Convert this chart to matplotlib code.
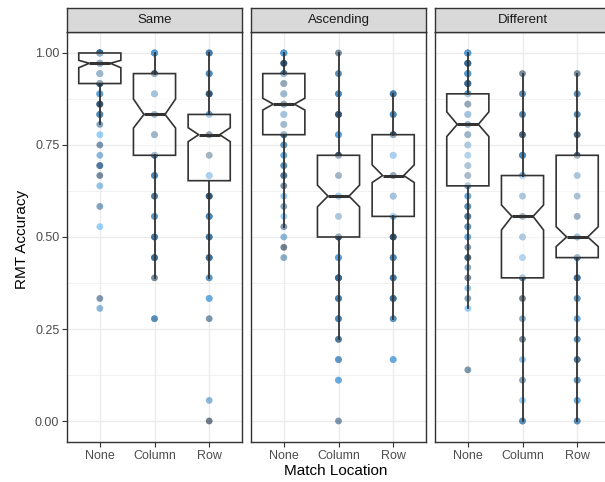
import numpy as np
import matplotlib
matplotlib.use('Agg')
import matplotlib.pyplot as plt
from matplotlib.colors import LinearSegmentedColormap

plt.rcParams['font.family'] = ['Liberation Sans', 'DejaVu Sans']

# Facetas y categorias
panels = ['Same', 'Ascending', 'Different']
locations = ['None', 'Column', 'Row']

# Puntos: niveles de accuracy y cuantos puntos hay en cada nivel
same_none_lv = [1.0, 0.972, 0.944, 0.917, 0.889, 0.861, 0.833, 0.806, 0.778, 0.75, 0.722, 0.694, 0.667, 0.639, 0.583, 0.528, 0.333, 0.306]
same_none_n = [8, 8, 5, 4, 3, 3, 3, 1, 1, 1, 1, 2, 1, 1, 1, 1, 1, 1]
same_col_lv = [1.0, 0.944, 0.889, 0.833, 0.778, 0.722, 0.667, 0.611, 0.556, 0.5, 0.444, 0.389, 0.278]
same_col_n = [4, 3, 3, 3, 3, 3, 3, 2, 2, 3, 3, 1, 2]
same_row_lv = [1.0, 0.944, 0.889, 0.833, 0.778, 0.722, 0.667, 0.611, 0.556, 0.5, 0.444, 0.389, 0.333, 0.278, 0.056, 0.0]
same_row_n = [3, 3, 3, 3, 3, 2, 3, 3, 3, 3, 3, 2, 2, 1, 1, 1]

asc_none_lv = [1.0, 0.972, 0.944, 0.917, 0.889, 0.861, 0.833, 0.806, 0.778, 0.75, 0.722, 0.694, 0.667, 0.639, 0.611, 0.583, 0.556, 0.528, 0.5, 0.472, 0.444]
asc_none_n = [4, 3, 4, 4, 4, 4, 3, 3, 3, 2, 2, 2, 2, 1, 1, 1, 1, 1, 1, 1, 1]
asc_col_lv = [1.0, 0.944, 0.889, 0.833, 0.778, 0.722, 0.667, 0.611, 0.556, 0.5, 0.444, 0.389, 0.333, 0.278, 0.222, 0.167, 0.111, 0.0]
asc_col_n = [1, 2, 3, 3, 3, 3, 2, 3, 2, 3, 3, 4, 3, 3, 2, 2, 2, 1]
asc_row_lv = [0.889, 0.833, 0.778, 0.722, 0.667, 0.611, 0.556, 0.5, 0.444, 0.389, 0.333, 0.278, 0.167]
asc_row_n = [3, 3, 3, 3, 3, 3, 2, 3, 3, 3, 3, 2, 2]

dif_none_lv = [1.0, 0.972, 0.944, 0.917, 0.889, 0.861, 0.833, 0.806, 0.778, 0.75, 0.722, 0.694, 0.667, 0.639, 0.611, 0.583, 0.556, 0.528, 0.5, 0.472, 0.444, 0.417, 0.389, 0.361, 0.333, 0.306, 0.139]
dif_none_n = [4, 4, 4, 4, 4, 3, 3, 3, 3, 2, 2, 2, 2, 2, 2, 2, 2, 2, 2, 1, 2, 1, 1, 1, 1, 1, 1]
dif_col_lv = [0.944, 0.889, 0.833, 0.778, 0.722, 0.667, 0.611, 0.556, 0.5, 0.444, 0.389, 0.333, 0.278, 0.222, 0.167, 0.111, 0.056, 0.0]
dif_col_n = [1, 2, 2, 2, 3, 2, 2, 2, 2, 2, 2, 1, 1, 1, 1, 1, 1, 2]
dif_row_lv = [0.944, 0.889, 0.833, 0.778, 0.722, 0.667, 0.611, 0.556, 0.5, 0.444, 0.389, 0.333, 0.278, 0.222, 0.167, 0.111, 0.056, 0.0]
dif_row_n = [1, 2, 2, 2, 2, 2, 2, 2, 3, 3, 3, 2, 2, 2, 2, 2, 2, 2]

points = {
    'Same': [(same_none_lv, same_none_n), (same_col_lv, same_col_n), (same_row_lv, same_row_n)],
    'Ascending': [(asc_none_lv, asc_none_n), (asc_col_lv, asc_col_n), (asc_row_lv, asc_row_n)],
    'Different': [(dif_none_lv, dif_none_n), (dif_col_lv, dif_col_n), (dif_row_lv, dif_row_n)],
}

# Estadisticos de las cajas (None, Column, Row)
box_q1 = {'Same': [0.917, 0.722, 0.653], 'Ascending': [0.778, 0.500, 0.556], 'Different': [0.639, 0.389, 0.444]}
box_med = {'Same': [0.972, 0.833, 0.778], 'Ascending': [0.861, 0.611, 0.667], 'Different': [0.806, 0.556, 0.500]}
box_q3 = {'Same': [1.000, 0.944, 0.833], 'Ascending': [0.944, 0.722, 0.778], 'Different': [0.889, 0.667, 0.722]}
notch_lo = {'Same': [0.960, 0.796, 0.759], 'Ascending': [0.845, 0.582, 0.648], 'Different': [0.773, 0.519, 0.474]}
notch_hi = {'Same': [0.980, 0.875, 0.797], 'Ascending': [0.877, 0.641, 0.696], 'Different': [0.840, 0.587, 0.528]}
whisk_lo = {'Same': [0.806, 0.389, 0.389], 'Ascending': [0.528, 0.222, 0.278], 'Different': [0.306, 0.000, 0.000]}
whisk_hi = {'Same': [1.000, 1.000, 1.000], 'Ascending': [1.000, 1.000, 0.889], 'Different': [1.000, 0.944, 0.944]}

# Estilo
W, H = 605, 482
cmap = LinearSegmentedColormap.from_list('gg', ['#132B43', '#56B1F7'])
shades = [0.15, 0.85, 0.45, 1.0, 0.3, 0.7, 0.0, 0.55]
dark = '#333333'

fig = plt.figure(figsize=(W / 100, H / 100), dpi=100)
lefts = [67, 251, 435]
pw = 175
top_px, bot_px, strip_top = 32, 442, 8

for k, panel in enumerate(panels):
    ax = fig.add_axes([lefts[k] / W, (H - bot_px) / H, pw / W, (bot_px - top_px) / H])
    ax.set_xlim(0.4, 3.6)
    ax.set_ylim(-0.057, 1.057)

    # grilla estilo theme_bw
    ax.set_yticks([0, 0.25, 0.5, 0.75, 1.0])
    ax.set_yticks([0.125, 0.375, 0.625, 0.875], minor=True)
    ax.set_xticks([1, 2, 3])
    ax.grid(True, which='major', color='#EBEBEB', linewidth=1.0, zorder=0)
    ax.grid(True, which='minor', axis='y', color='#EBEBEB', linewidth=0.5, zorder=0)
    ax.set_axisbelow(True)

    # puntos
    for j in range(3):
        lv, n = points[panel][j]
        vals = np.repeat(lv, n)
        cols = [cmap(shades[i % len(shades)]) for i in range(len(vals))]
        ax.scatter(np.full(len(vals), j + 1), vals, s=24, c=cols, alpha=0.6,
                   linewidths=0, zorder=2)

    # cajas con muesca
    stats = []
    for j in range(3):
        stats.append({'med': box_med[panel][j], 'q1': box_q1[panel][j], 'q3': box_q3[panel][j],
                      'whislo': whisk_lo[panel][j], 'whishi': whisk_hi[panel][j],
                      'cilo': notch_lo[panel][j], 'cihi': notch_hi[panel][j], 'fliers': []})
    ax.bxp(stats, positions=[1, 2, 3], widths=0.77, shownotches=True, showfliers=False,
           showcaps=False, patch_artist=True, manage_ticks=False,
           boxprops=dict(facecolor=(1, 1, 1, 0.5), edgecolor=dark, linewidth=1.2),
           medianprops=dict(color=dark, linewidth=2.2),
           whiskerprops=dict(color=dark, linewidth=1.3), zorder=3)

    ax.set_xticklabels(locations, fontsize=9, color='#4D4D4D')
    if k == 0:
        ax.set_yticklabels(['0.00', '0.25', '0.50', '0.75', '1.00'], fontsize=9, color='#4D4D4D')
    else:
        ax.tick_params(axis='y', labelleft=False, left=False)
    ax.tick_params(which='minor', length=0)
    ax.tick_params(which='major', length=3.5, width=0.8, color=dark, pad=2)
    for sp in ax.spines.values():
        sp.set_color(dark)
        sp.set_linewidth(1.0)

    # tira del facet
    sax = fig.add_axes([lefts[k] / W, (H - top_px) / H, pw / W, (top_px - strip_top) / H])
    sax.set_facecolor('#D9D9D9')
    sax.set_xticks([])
    sax.set_yticks([])
    for sp in sax.spines.values():
        sp.set_color(dark)
        sp.set_linewidth(1.0)
    sax.text(0.5, 0.5, panel, ha='center', va='center', fontsize=9.5, color='#1A1A1A',
             transform=sax.transAxes)

fig.text(22 / W, 1 - 239 / H, 'RMT Accuracy', rotation=90, ha='center', va='center', fontsize=11)
fig.text(336 / W, 1 - 471 / H, 'Match Location', ha='center', va='center', fontsize=11)

plt.savefig('out.png', dpi=100)
